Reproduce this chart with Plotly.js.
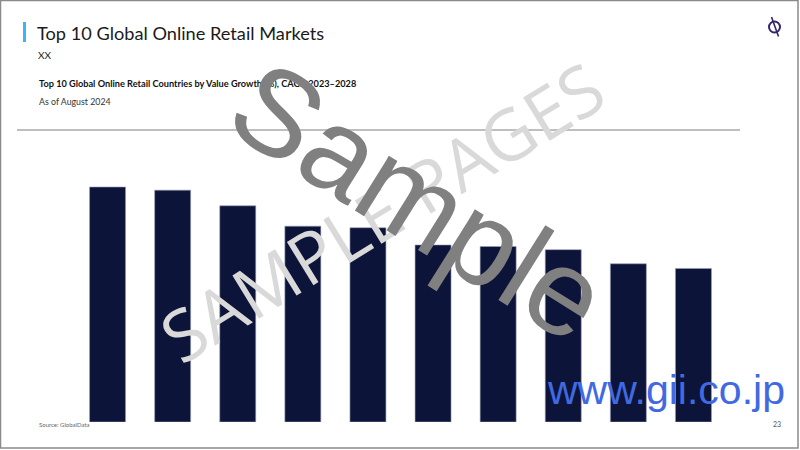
<!DOCTYPE html>
<html>
<head>
<meta charset="utf-8">
<script src="https://cdn.plot.ly/plotly-3.0.1.min.js"></script>
<style>html,body{margin:0;padding:0;background:#fff;}#chart{width:800px;height:450px;}</style>
</head>
<body>
<div id="chart"></div>
<script>
// ---- data ----
const categories = ["Market 1","Market 2","Market 3","Market 4","Market 5","Market 6","Market 7","Market 8","Market 9","Market 10"];
const cagrValues = [15.0, 14.8, 13.8, 12.5, 12.4, 11.3, 11.2, 11.0, 10.1, 9.8];
const pageTitle = "Top 10 Global Online Retail Markets";
const pageSubtitle = "XX";
const chartTitle = "Top 10 Global Online Retail Countries by Value Growth (%), CAGR 2023\u20132028";
const asOf = "As of August 2024";
const sourceText = "Source: GlobalData";
const pageNumber = "23";

// ---- layout helpers (pixel -> paper) ----
const W = 800, H = 450;
const M = {l: 75, r: 74, t: 140, b: 28};
const pw = W - M.l - M.r, ph = H - M.t - M.b;
const fx = x => (x - M.l) / pw;
const fy = y => (H - M.b - y) / ph;

const calibri = "Lato, 'Open Sans', sans-serif";

function txt(text, x, y, size, color, opts) {
  return Object.assign({
    text: text, xref: "paper", yref: "paper", x: fx(x), y: fy(y),
    xanchor: "left", yanchor: "middle", showarrow: false,
    font: {family: calibri, size: size, color: color}
  }, opts || {});
}

const annotations = [
  txt(pageTitle, 35, 33, 18.2, "#1a1a1a"),
  txt(pageSubtitle, 36, 55, 10, "#1a1a1a"),
  txt("<b>" + chartTitle + "</b>", 37, 84, 9.2, "#111111"),
  txt(asOf, 37, 101, 8.8, "#333333"),
  txt(sourceText, 37, 424, 6, "#666666"),
  txt(pageNumber, 771, 424, 7, "#555555"),
  {text: "SAMPLE PAGES", xref: "paper", yref: "paper", x: fx(381), y: fy(211),
   xanchor: "center", yanchor: "middle", showarrow: false, textangle: -31.5,
   font: {family: "'Open Sans', sans-serif", size: 71, color: "#d9d9d9"}},
  {text: "Sample", xref: "paper", yref: "paper", x: fx(419), y: fy(201),
   xanchor: "center", yanchor: "middle", showarrow: false, textangle: 32,
   font: {family: "'Liberation Sans', Arial, sans-serif", size: 122, color: "#808080"}},
  {text: "www.gii.co.jp", xref: "paper", yref: "paper", x: fx(666), y: fy(390),
   xanchor: "center", yanchor: "middle", showarrow: false,
   font: {family: "'Liberation Sans', Arial, sans-serif", size: 41, color: "#4169E1"}}
];

const shapes = [
  // page border
  {type: "rect", xref: "paper", yref: "paper", x0: fx(0.5), x1: fx(798), y0: fy(0.5), y1: fy(448),
   line: {color: "#8a8a8a", width: 1.5}, fillcolor: "rgba(0,0,0,0)", layer: "below"},
  // accent bar
  {type: "rect", xref: "paper", yref: "paper", x0: fx(23), x1: fx(26), y0: fy(22), y1: fy(42),
   line: {width: 0}, fillcolor: "#3db5f3"},
  // separator line
  {type: "line", xref: "paper", yref: "paper", x0: fx(17), x1: fx(740), y0: fy(130), y1: fy(130),
   line: {color: "#7f7f7f", width: 1}},
  // logo circle
  {type: "circle", xref: "paper", yref: "paper", x0: fx(769), x1: fx(780), y0: fy(21.5), y1: fy(32.5),
   line: {color: "#34246a", width: 2}},
  // logo diagonal
  {type: "line", xref: "paper", yref: "paper", x0: fx(771.5), x1: fx(778.5), y0: fy(17), y1: fy(36.5),
   line: {color: "#34246a", width: 1.6}}
];

const trace = {
  type: "bar",
  x: categories,
  y: cagrValues,
  marker: {color: "#0c1539", line: {color: "#9aa0b8", width: 0.6}},
  hoverinfo: "none"
};

const layout = {
  width: W, height: H,
  margin: M,
  paper_bgcolor: "#ffffff", plot_bgcolor: "#ffffff",
  showlegend: false,
  bargap: 0.447,
  xaxis: {showticklabels: false, showgrid: false, zeroline: false, showline: false, ticks: "", fixedrange: true},
  yaxis: {range: [0, 18], showticklabels: false, showgrid: false, zeroline: false, showline: false, ticks: "", fixedrange: true},
  annotations: annotations,
  shapes: shapes
};

Plotly.newPlot("chart", [trace], layout, {displayModeBar: false, staticPlot: true});
</script>
</body>
</html>
